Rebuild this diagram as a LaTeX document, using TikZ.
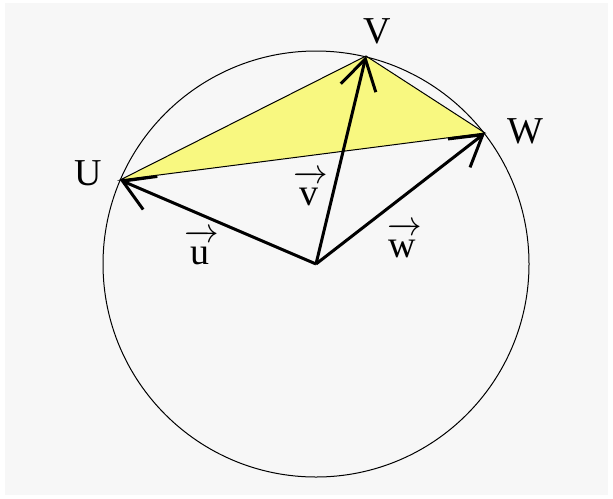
\documentclass[tikz,border=0pt]{standalone}
\usepackage{fontspec}
\setmainfont{Liberation Serif}
\usetikzlibrary{arrows.meta}
\definecolor{panelgray}{RGB}{247,247,247}
\definecolor{triyellow}{RGB}{248,248,128}
\newcommand{\vecname}[1]{$\overrightarrow{\vphantom{l}\textrm{#1}\kern2pt}$}

\begin{document}
\begin{tikzpicture}[
  x=0.5pt, y=-0.5pt,
  vec/.style={line width=1.5pt, -{Straight Barb[length=15pt, width=18pt]}},
  edge/.style={line width=0.5pt},
  pointlbl/.style={inner sep=0pt, font=\fontsize{19}{22}\selectfont},
  veclbl/.style={inner sep=0pt, anchor=base west, font=\fontsize{19}{22}\selectfont}
]
\useasboundingbox (0,0) rectangle (613,498);
\fill[white] (0,0) rectangle (613,498);
\fill[panelgray] (5,3) rectangle (608,495);
% centre and the three points on the circle
\coordinate (O) at (316,264);
\coordinate (U) at (120,180);
\coordinate (V) at (366,56);
\coordinate (W) at (485,133);
\fill[triyellow] (U) -- (V) -- (W) -- cycle;
\draw[edge] (O) circle[radius=106.5pt];
\draw[edge] (U) -- (V) -- (W) -- cycle;
\draw[vec] (O) -- (U);
\draw[vec] (O) -- (V);
\draw[vec] (O) -- (W);
% labels
\node[pointlbl] (lu) at (88,173) {U};
\node[pointlbl] (lv) at (377,31) {V};
\node[pointlbl] (lw) at (525,131) {W};
\node[veclbl] (lvu) at (184,264) {\vecname{u}};
\node[veclbl] (lvv) at (293,205) {\vecname{v}};
\node[veclbl] (lvw) at (387,257) {\vecname{w}};
\end{tikzpicture}
\end{document}
